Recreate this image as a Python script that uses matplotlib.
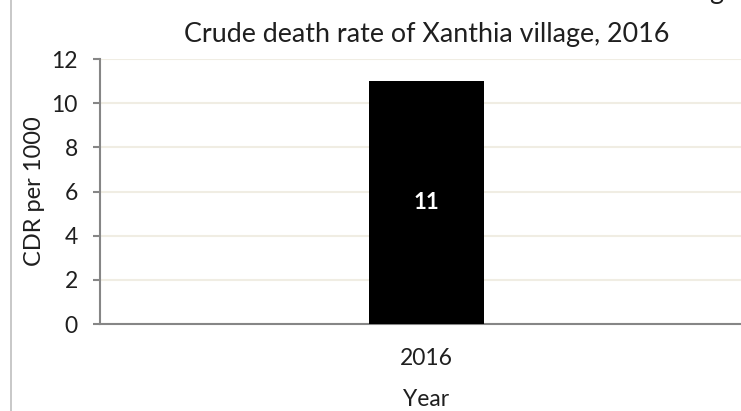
import matplotlib
matplotlib.use("Agg")
import matplotlib.pyplot as plt
from matplotlib.lines import Line2D

categories = ["2016"]
values = [11]
title = "Crude death rate of Xanthia village, 2016"
ylabel = "CDR per 1000"
xlabel = "Year"
yticks = [0, 2, 4, 6, 8, 10, 12]

plt.rcParams['font.family'] = ['Lato', 'DejaVu Sans']

W, H = 741, 411
fig = plt.figure(figsize=(W / 100, H / 100), dpi=100)
ax_l, ax_r = 100 / W, 753 / W
ax_b, ax_t = (H - 324) / H, (H - 59) / H
ax = fig.add_axes([ax_l, ax_b, ax_r - ax_l, ax_t - ax_b])

x = list(range(len(categories)))
bars = ax.bar(x, values, width=0.176, color="black", zorder=3)
for b, v in zip(bars, values):
    ax.text(b.get_x() + b.get_width() / 2, v / 2, f"{v}", ha="center", va="center",
            color="white", fontsize=16, fontweight="bold", zorder=4)

ax.set_xlim(-0.5, len(categories) - 0.5)
ax.set_ylim(0, 12)
ax.set_yticks(yticks)
ax.set_xticks(x)
ax.set_xticklabels(categories)
ax.grid(axis="y", color="#F0EDE3", linewidth=1.5, zorder=0)
ax.set_axisbelow(True)
for s in ["top", "right"]:
    ax.spines[s].set_visible(False)
for s in ["left", "bottom"]:
    ax.spines[s].set_color("#868686")
    ax.spines[s].set_linewidth(1.5)
txt = "#1f1f1f"
ax.tick_params(axis="y", length=5, width=1.5, color="#868686", labelsize=16.5, pad=11, labelcolor=txt)
ax.tick_params(axis="x", length=0, labelsize=16.5, pad=17, labelcolor=txt)
ax.set_ylabel(ylabel, fontsize=17, color=txt, labelpad=4.5)
ax.set_xlabel(xlabel, fontsize=16.5, color=txt, labelpad=15)
ax.set_title(title, fontsize=19.4, color=txt, pad=12)

fig.add_artist(Line2D([10.5 / W, 10.5 / W], [0, 1], color="#BFBFBF", linewidth=1.2))
fig.text(716 / W, 1.0 + 1 / H, "g", fontsize=19.4, color=txt, ha="center", va="baseline")

fig.savefig("out.png", dpi=100)
